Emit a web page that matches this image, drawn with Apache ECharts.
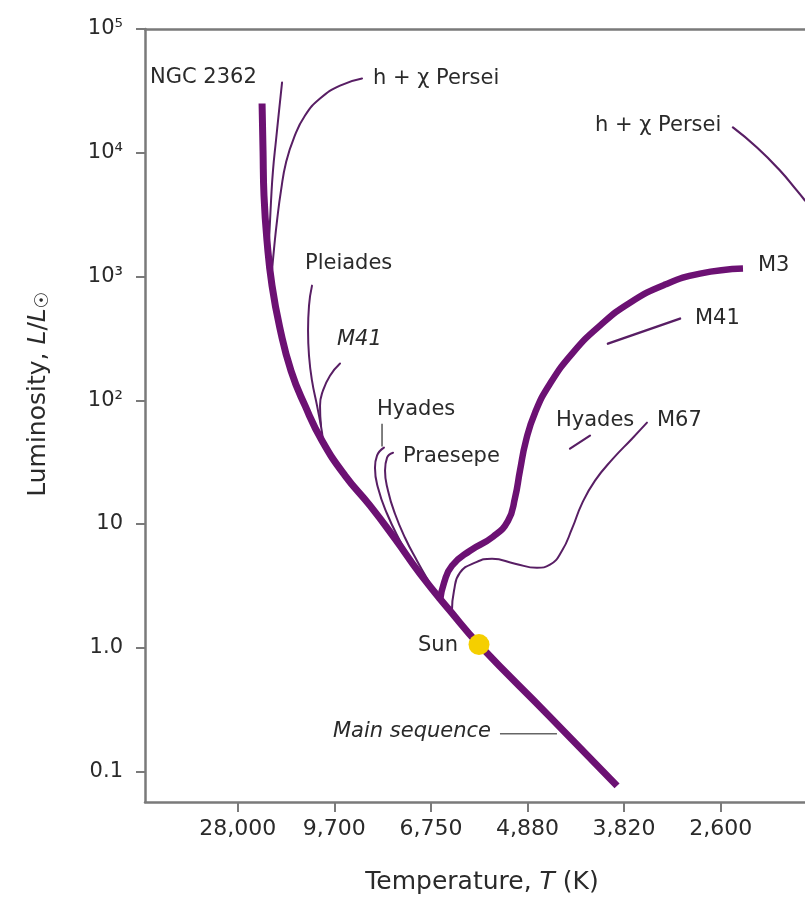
<!DOCTYPE html>
<html><head><meta charset="utf-8">
<script src="https://cdn.jsdelivr.net/npm/echarts@6/dist/echarts.min.js"></script>
<style>html,body{margin:0;padding:0;background:#fff}#c{width:805px;height:906px}</style>
</head><body><div id="c"></div>
<script>
// Temperature axis: tick labels at evenly spaced positions 1..6
const tempLabels = ['28,000', '9,700', '6,750', '4,880', '3,820', '2,600'];
const tempTickPos = [1, 2, 3, 4, 5, 6];
// Luminosity axis (L / Lsun, logarithmic)
const lumTickValues = [0.1, 1, 10, 100, 1000, 10000, 100000];
const lumTickLabels = ['0.1', '1.0', '10', '10²', '10³', '10⁴', '10⁵'];
const tempMin = 0.04, tempMax = 6.873;
const lumMin = 0.0567, lumMax = 100000;

// curves: [temperature position, L/Lsun]
const mainSequence = [[1.252,25000],[1.262,10420],[1.272,4510],[1.303,1950],[1.355,844],[1.438,379],[1.552,173],[1.697,90.4],[1.873,47.1],[2.111,24.6],[2.370,14.06],[2.628,7.61],[2.887,3.97],[3.198,1.99],[3.498,1.06],[4.212,0.287],[4.927,0.0766]];
const ngc2362 = [[1.459,37000],[1.428,21900],[1.396,12560],[1.365,7180],[1.345,4110],[1.324,1950]];
const hPerseiBlue = [[2.287,39800],[2.059,34900],[1.852,27400],[1.697,20000],[1.583,13280],[1.500,8340],[1.448,4940],[1.407,2830],[1.376,1682],[1.355,1117]];
const pleiades = [[1.769,844],[1.738,582],[1.728,365],[1.738,229],[1.769,144],[1.821,90.4],[1.873,54.7],[1.883,43.8]];
const m41Blue = [[2.059,198],[1.955,158],[1.883,120],[1.852,90.4],[1.862,62.3]];
const hyadesMS = [[2.514,41.4],[2.442,35.7],[2.421,28.5],[2.452,19.6],[2.546,12.1],[2.680,7.33],[2.815,4.78],[2.960,3.29],[3.063,2.54]];
const praesepe = [[2.608,37.7],[2.546,34.4],[2.525,27.0],[2.556,18.6],[2.628,12.1],[2.732,7.75],[2.856,5.05],[2.991,3.29],[3.094,2.40]];
const m3Branch = [[3.094,2.40],[3.136,3.35],[3.218,4.60],[3.405,6.08],[3.643,7.89],[3.798,10.6],[3.871,16.3],[3.922,27.0],[3.984,47.1],[4.078,79.4],[4.233,136],[4.471,243],[4.750,401],[5.061,615],[5.423,860],[5.786,1055],[6.231,1160]];
const m67Branch = [[3.218,1.99],[3.239,2.89],[3.301,4.04],[3.457,4.87],[3.633,5.24],[3.871,4.78],[4.098,4.43],[4.233,4.69],[4.357,6.08],[4.461,9.16],[4.564,14.6],[4.699,22.4],[4.885,33.7],[5.082,48.9],[5.237,65.9]];
const hyadesGiant = [[4.440,40.6],[4.647,51.8]];
const m41Giant = [[4.833,287],[5.579,457]];
const hPerseiRed = [[6.127,16000],[6.376,11020],[6.614,7180],[6.790,4940],[6.873,4110]];
const sun = [[3.498,1.06]];
// annotation leader lines
const mainSeqLeader = [[3.715,0.202],[4.305,0.202]];
const hyadesLeader = [[2.494,64.7],[2.494,42.2]];

const toLog = arr => arr.map(p => [p[0], Math.log10(p[1])]);
const FAM = 'DejaVu Sans';
const THICK = '#6c1173', THIN = '#581e64', GRAY = '#7a7a7a', TXT = '#2a2a2a';
const SM = 0.5;

function thin(name, data, w) {
  return {name, type:'line', data: toLog(data), showSymbol:false, smooth:SM, silent:true,
    lineStyle:{color:THIN, width:w||2, cap:'round'}, z:2};
}
function label(text, x, y, italic) {
  return {type:'text', x, y, z:10, silent:true,
    style:{text, fontSize:21, fontFamily:FAM, fontStyle: italic ? 'italic' : 'normal', fill:TXT,
      align:'left', verticalAlign:'middle', textAlign:'left', textVerticalAlign:'middle'}};
}
const tickLog = lumTickValues.map(v => Math.log10(v));

const chart = echarts.init(document.getElementById('c'), null, {renderer:'canvas'});
chart.setOption({
  animation:false,
  backgroundColor:'#fff',
  grid:{left:145, right:0, top:29, bottom:104},
  xAxis:[{
    type:'value', min:tempMin, max:tempMax,
    axisLine:{show:true, onZero:false, lineStyle:{color:GRAY, width:2.5}},
    axisTick:{show:true, customValues:tempTickPos, length:10, inside:false, lineStyle:{color:GRAY, width:2}},
    axisLabel:{show:true, customValues:tempTickPos, margin:16, fontSize:22, fontFamily:FAM, color:TXT,
      formatter: v => tempLabels[tempTickPos.indexOf(Math.round(v))] || ''},
    splitLine:{show:false}
  },{
    type:'value', position:'top', min:tempMin, max:tempMax,
    axisLine:{show:true, onZero:false, lineStyle:{color:GRAY, width:2.5}},
    axisTick:{show:false}, axisLabel:{show:false}, splitLine:{show:false}
  }],
  yAxis:{
    type:'value', min:Math.log10(lumMin), max:Math.log10(lumMax),
    axisLine:{show:true, onZero:false, lineStyle:{color:GRAY, width:2.5}},
    axisTick:{show:true, customValues:tickLog, length:9, lineStyle:{color:GRAY, width:2}},
    axisLabel:{show:true, customValues:tickLog, margin:22, fontSize:21, fontFamily:FAM, color:TXT,
      formatter: v => { const i = tickLog.findIndex(t => Math.abs(t - v) < 1e-6); return i >= 0 ? lumTickLabels[i] : ''; }},
    splitLine:{show:false}
  },
  series:[
    thin('NGC 2362', ngc2362),
    thin('h + χ Persei', hPerseiBlue),
    thin('Pleiades', pleiades),
    thin('M41', m41Blue),
    thin('Hyades', hyadesMS),
    thin('Praesepe', praesepe),
    thin('M67', m67Branch),
    thin('Hyades giants', hyadesGiant, 2.2),
    thin('M41 giants', m41Giant, 2.5),
    thin('h + χ Persei giants', hPerseiRed, 2.2),
    {name:'leader1', type:'line', data:toLog(mainSeqLeader), showSymbol:false, silent:true, lineStyle:{color:'#666', width:1.5}, z:2},
    {name:'leader2', type:'line', data:toLog(hyadesLeader), showSymbol:false, silent:true, lineStyle:{color:'#555', width:1.5}, z:2},
    {name:'M3', type:'line', data:toLog(m3Branch), showSymbol:false, smooth:SM, silent:true,
      lineStyle:{color:THICK, width:6.5, cap:'butt'}, z:3},
    {name:'Main sequence', type:'line', data:toLog(mainSequence), showSymbol:false, smooth:SM, silent:true,
      lineStyle:{color:THICK, width:7, cap:'butt'}, z:3},
    {name:'Sun', type:'scatter', data:toLog(sun), symbolSize:21, silent:true,
      itemStyle:{color:'#f5cf00', opacity:1}, z:5}
  ],
  graphic:[
    label('NGC 2362', 150, 78),
    label('h + χ Persei', 373, 79),
    label('h + χ Persei', 595, 126),
    label('Pleiades', 305, 264),
    label('M41', 337, 340, true),
    label('Hyades', 377, 410),
    label('Praesepe', 403, 457),
    label('Hyades', 556, 421),
    label('M67', 657, 421),
    label('M41', 695, 319),
    label('M3', 758, 266),
    label('Sun', 418, 646),
    label('Main sequence', 333, 732, true),
    {type:'text', x:482, y:882, z:10, silent:true,
      style:{text:'Temperature, {i|T} (K)', fontSize:25, fontFamily:FAM, fill:TXT,
        align:'center', verticalAlign:'middle', textAlign:'center', textVerticalAlign:'middle',
        rich:{i:{fontSize:25, fontFamily:FAM, fontStyle:'italic', fill:TXT}}}},
    {type:'text', x:38, y:394, rotation:Math.PI/2, z:10, silent:true,
      style:{text:'Luminosity, {i|L}/{i|L}{s|☉}', fontSize:25, fontFamily:FAM, fill:TXT, lineHeight:30,
        align:'center', verticalAlign:'middle', textAlign:'center', textVerticalAlign:'middle',
        rich:{i:{fontSize:25, fontFamily:FAM, fontStyle:'italic', fill:TXT, lineHeight:30},
              s:{fontSize:19, fontFamily:FAM, fill:TXT, lineHeight:19, verticalAlign:'bottom'}}}}
  ]
});
</script></body></html>
